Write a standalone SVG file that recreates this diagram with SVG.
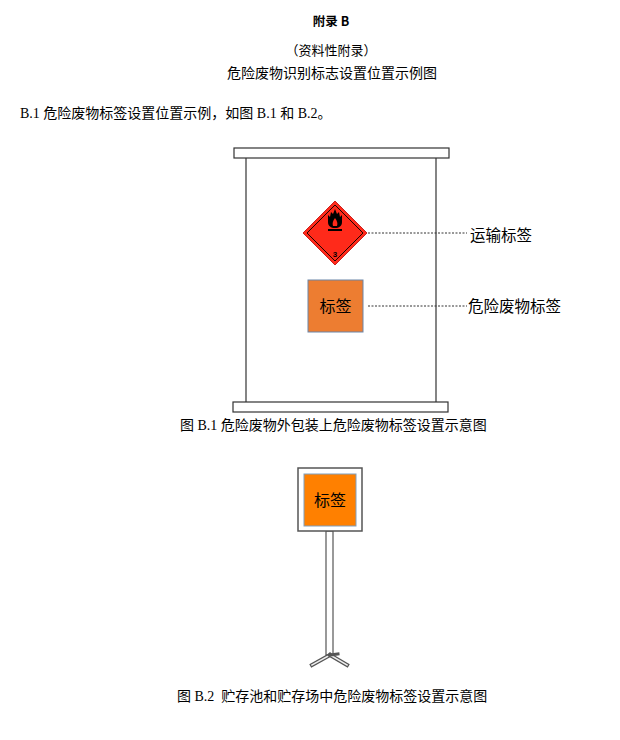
<svg xmlns="http://www.w3.org/2000/svg" width="620" height="740" viewBox="0 0 620 740">
<style>
.hd{font-family:"Noto Sans CJK SC","Liberation Sans",sans-serif;fill:#000;text-anchor:middle}
.sr{font-family:"Liberation Serif","Noto Sans CJK SC",serif;fill:#000}
.lb{font-family:"Noto Sans CJK SC","Liberation Sans",sans-serif;fill:#000}
.bar{fill:#fff;stroke:#333;stroke-width:1.2}
.dash{stroke:#333;stroke-width:1;stroke-dasharray:2,1.5;fill:none}
</style>
<rect width="620" height="740" fill="#fff"/>
<g id="header">
<text class="hd" x="331" y="26" font-size="12.5" font-weight="bold">附录 B</text>
<text class="hd" x="331" y="55" font-size="13">（资料性附录）</text>
<text class="hd" x="332" y="78" font-size="14">危险废物识别标志设置位置示例图</text>
<text class="sr" x="20" y="118" font-size="14">B.1 危险废物标签设置位置示例，如图 B.1 和 B.2。</text>
</g>
<g id="package">
<rect class="bar" x="234" y="148" width="215" height="10"/>
<line x1="246" y1="158" x2="246" y2="402" stroke="#333" stroke-width="1.2"/>
<line x1="436" y1="158" x2="436" y2="402" stroke="#333" stroke-width="1.2"/>
<rect class="bar" x="233" y="402" width="215" height="10"/>
</g>
<g id="transport-label">
<polygon points="335,201 367,233 335,265 303,233" fill="#FF2A1A" stroke="#C00000" stroke-width="0.8"/>
<polygon points="335,205 363,233 335,261 307,233" fill="none" stroke="#000" stroke-width="0.9"/>
<path d="M335,209 L333,214 L331,212 L330,217 L328,215 L328,222 C328,226 331,228 335,228 C339,228 342,226 342,222 L342,215 L340,217 L339,212 L337,214 Z" fill="#000"/>
<path d="M335,218 C333,221 332,223 333,226 L337,226 C338,223 337,221 335,218 Z" fill="#FF2A1A"/>
<rect x="328" y="229" width="14" height="2" fill="#000"/>
<text x="335" y="257" font-family="Liberation Sans,sans-serif" font-size="8" font-weight="bold" text-anchor="middle" fill="#000">3</text>
</g>
<g id="waste-label-1">
<rect x="308" y="280" width="55" height="52" fill="#ED7D31" stroke="#6A85A8" stroke-width="1"/>
<text class="lb" x="335.5" y="312" font-size="16" text-anchor="middle">标签</text>
</g>
<g id="connectors">
<line class="dash" x1="368" y1="233" x2="467" y2="233"/>
<line class="dash" x1="368" y1="306" x2="467" y2="306"/>
</g>
<g id="callouts">
<text class="lb" x="470" y="241" font-size="15.5">运输标签</text>
<text class="lb" x="468" y="312" font-size="15.5">危险废物标签</text>
</g>
<text class="sr" x="180" y="430" font-size="14">图 B.1 危险废物外包装上危险废物标签设置示意图</text>
<g id="stand">
<rect x="326" y="531" width="7" height="124" fill="#fff" stroke="#555" stroke-width="1.2"/>
<g stroke-linecap="square">
<line x1="330" y1="655" x2="312" y2="665" stroke="#555" stroke-width="4"/>
<line x1="330" y1="655" x2="312" y2="665" stroke="#eee" stroke-width="1.6"/>
<line x1="330" y1="655" x2="347" y2="665" stroke="#555" stroke-width="4"/>
<line x1="330" y1="655" x2="347" y2="665" stroke="#eee" stroke-width="1.6"/>
<line x1="330" y1="655" x2="338" y2="654" stroke="#555" stroke-width="3"/>
</g>
<rect x="298" y="468" width="64" height="63" fill="#fff" stroke="#555" stroke-width="1.5"/>
<rect x="304" y="474" width="52" height="52" fill="#FF8000" stroke="#7F9FBF" stroke-width="1"/>
<text class="lb" x="330" y="506" font-size="16" text-anchor="middle">标签</text>
</g>
<text class="sr" x="177" y="701" font-size="14">图 B.2 &#160;贮存池和贮存场中危险废物标签设置示意图</text>
</svg>
